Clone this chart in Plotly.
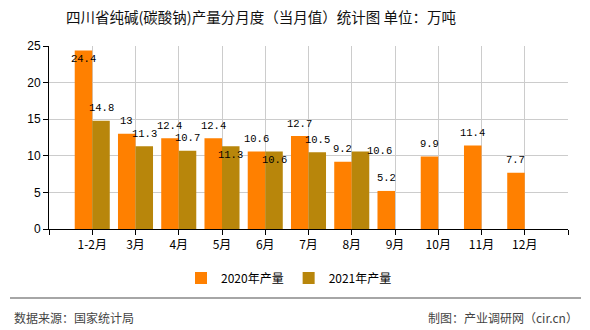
import plotly.graph_objects as go

# Monthly soda ash output, Sichuan (10k tonnes)
months = ["1-2月", "3月", "4月", "5月", "6月", "7月", "8月", "9月", "10月", "11月", "12月"]
output_2020 = [24.4, 13, 12.4, 12.4, 10.6, 12.7, 9.2, 5.2, 9.9, 11.4, 7.7]
output_2021 = [14.8, 11.3, 10.7, 11.3, 10.6, 10.5, 10.6, None, None, None, None]
series_names = ["2020年产量", "2021年产量"]
y_ticks = [0, 5, 10, 15, 20, 25]

COLORS = ["#FF8000", "#B8860B"]
W, H = 590, 330
ML, MR, MT, MB = 49, 22, 46, 101
BARGAP = 0.19

LABEL_FONT = dict(family="Liberation Mono, DejaVu Sans Mono, monospace", size=10.5, color="#000")
CJK = "Noto Sans CJK SC, Noto Sans, sans-serif"

# label placement: default sits above the bar; a few are nudged to avoid overlaps
DEFAULT_DY = 12.5
label_nudge = {
    (0, 0): (0, -8.5),
    (1, 3): (0, -8.5),
    (1, 4): (0, -8.5),
    (1, 6): (19, 0),
}

xs = list(range(len(months)))
fig = go.Figure()
for s, (name, vals) in enumerate(zip(series_names, [output_2020, output_2021])):
    fig.add_trace(go.Bar(x=xs, y=vals, name=name, marker=dict(color=COLORS[s], line_width=0)))

bar_w = (1 - BARGAP) / 2
annotations = []
for s, vals in enumerate([output_2020, output_2021]):
    for i, v in enumerate(vals):
        if v is None:
            continue
        dx, dy = label_nudge.get((s, i), (0, DEFAULT_DY))
        annotations.append(dict(
            x=i + (s - 0.5) * bar_w, y=v, xref="x", yref="y",
            text=f"{v:g}", showarrow=False, xanchor="center", yanchor="middle",
            xshift=dx, yshift=dy, font=LABEL_FONT,
        ))

plot_w = W - ML - MR
plot_h = H - MT - MB


def px_x(px):
    return (px - ML) / plot_w


def px_y(py):
    return (H - MB - py) / plot_h


# footer
annotations.append(dict(
    x=px_x(12), y=px_y(317), xref="paper", yref="paper", text="数据来源：国家统计局",
    showarrow=False, xanchor="left", yanchor="middle",
    font=dict(family=CJK, size=12, color="#444"),
))
annotations.append(dict(
    x=px_x(580), y=px_y(317), xref="paper", yref="paper", text="制图：产业调研网（cir.cn）",
    showarrow=False, xanchor="right", yanchor="middle",
    font=dict(family=CJK, size=12, color="#444"),
))

fig.update_layout(
    width=W, height=H,
    margin=dict(l=ML, r=MR, t=MT, b=MB, pad=0),
    paper_bgcolor="white", plot_bgcolor="white",
    barmode="group", bargap=BARGAP, bargroupgap=0,
    title=dict(
        text="四川省纯碱(碳酸钠)产量分月度（当月值）统计图 单位：万吨",
        x=261 / W, xref="container", xanchor="center",
        y=1 - 18 / H, yref="container", yanchor="middle",
        font=dict(family=CJK, size=14.5, color="#111"),
    ),
    showlegend=True,
    legend=dict(
        orientation="h", x=289 / W, xref="container", xanchor="center",
        y=1 - 278 / H, yref="container", yanchor="middle",
        font=dict(family=CJK, size=12, color="#000"),
        itemwidth=30, tracegroupgap=0, bgcolor="rgba(0,0,0,0)",
    ),
    font=dict(family=CJK, size=12, color="#000"),
    annotations=annotations,
    shapes=[dict(
        type="line", xref="paper", yref="paper",
        x0=px_x(10), x1=px_x(581), y0=px_y(298), y1=px_y(298),
        line=dict(color="#888", width=1.5),
    )],
)

fig.update_xaxes(
    type="linear", range=[-1, len(months)],
    tickvals=list(range(-1, len(months) + 1)), ticktext=[""] + months + [""],
    showgrid=True, gridcolor="#cccccc", gridwidth=1,
    showline=True, linecolor="#000", linewidth=1,
    ticks="outside", ticklen=5, tickcolor="#000",
    zeroline=False, tickfont=dict(family=CJK, size=12, color="#000"),
)
fig.update_yaxes(
    range=[0, 25], tickvals=y_ticks,
    showgrid=True, gridcolor="#cccccc", gridwidth=1,
    showline=True, linecolor="#000", linewidth=1,
    ticks="outside", ticklen=5, tickcolor="#000",
    zeroline=False, tickfont=dict(family="Liberation Sans, Arial, sans-serif", size=12, color="#000"),
)

fig.write_html("out.html")
